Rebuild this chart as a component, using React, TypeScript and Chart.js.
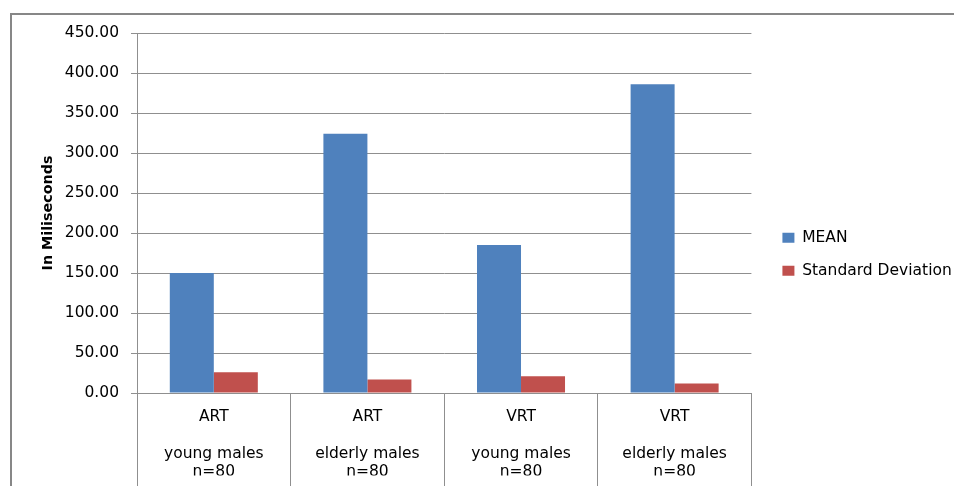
import { useEffect, useRef } from "react";
import { Chart, registerables } from "chart.js";

Chart.register(...registerables);

const testTypes = ["ART", "ART", "VRT", "VRT"];
const groups = ["young males", "elderly males", "young males", "elderly males"];
const sampleSizes = ["n=80", "n=80", "n=80", "n=80"];

const seriesNames = ["MEAN", "Standard Deviation"];
const meanValues = [150, 324, 185, 386];
const sdValues = [26, 17, 21, 12];

const yMin = 0;
const yMax = 450;
const yStep = 50;
const yTitle = "In Miliseconds";

const FONT = "DejaVu Sans";
const GRID = "#8f8f8f";
const LEGEND_GAP = 13.5;

const framePlugin = {
  id: "frame",
  afterDraw(chart: any) {
    const ctx = chart.ctx;
    ctx.save();
    ctx.strokeStyle = "#878787";
    ctx.lineWidth = 2;
    ctx.beginPath();
    ctx.moveTo(11, chart.height);
    ctx.lineTo(11, 14);
    ctx.lineTo(chart.width, 14);
    ctx.stroke();
    ctx.restore();
  },
};

const legendGapPlugin = {
  id: "legendGap",
  afterLayout(chart: any) {
    const l = chart.legend;
    if (l) {
      l.left += LEGEND_GAP;
      l.right += LEGEND_GAP;
    }
  },
};

export default function App() {
  const ref = useRef<HTMLCanvasElement>(null);

  useEffect(() => {
    const labels = testTypes.map((t, i) => [t, "", groups[i], sampleSizes[i]]);
    const chart = new Chart(ref.current as HTMLCanvasElement, {
      type: "bar",
      data: {
        labels,
        datasets: [
          {
            label: seriesNames[0],
            data: meanValues,
            backgroundColor: "#4F81BD",
            categoryPercentage: 0.573,
            barPercentage: 1,
          },
          {
            label: seriesNames[1],
            data: sdValues,
            backgroundColor: "#C0504D",
            categoryPercentage: 0.573,
            barPercentage: 1,
          },
        ],
      },
      options: {
        responsive: false,
        animation: false,
        devicePixelRatio: 1,
        layout: { padding: { left: 36, top: 33, right: 5.75, bottom: 10.5 } },
        plugins: {
          tooltip: { enabled: false },
          legend: {
            position: "right",
            labels: {
              boxWidth: 12,
              boxHeight: 10,
              padding: 17.5,
              color: "#000",
              font: { family: FONT, size: 15.5 },
            },
          },
        },
        scales: {
          x: {
            offset: true,
            grid: {
              offset: true,
              drawOnChartArea: false,
              drawTicks: true,
              tickLength: 93,
              color: GRID,
            },
            border: { color: GRID },
            ticks: {
              padding: -78.15,
              color: "#000",
              maxRotation: 0,
              autoSkip: false,
              font: { family: FONT, size: 15.5, lineHeight: 18.3 / 15.5 },
            },
            afterFit(s: any) {
              s.height = 82.5;
            },
          },
          y: {
            min: yMin,
            max: yMax,
            grid: { color: GRID, tickLength: 6 },
            border: { color: GRID },
            ticks: {
              stepSize: yStep,
              padding: 12,
              color: "#000",
              font: { family: FONT, size: 15.5 },
              callback: (v: any) => Number(v).toFixed(2),
            },
            title: {
              display: true,
              text: yTitle,
              color: "#000",
              font: { family: FONT, size: 14.3, weight: "bold" },
            },
            afterFit(s: any) {
              s.width = 101;
            },
          },
        },
      },
      plugins: [legendGapPlugin, framePlugin],
    } as any);
    return () => chart.destroy();
  }, []);

  return (
    <div style={{ position: "fixed", left: 0, top: 0, width: 954, height: 486, background: "#fff" }}>
      <canvas ref={ref} width={954} height={486} style={{ display: "block" }} />
    </div>
  );
}
